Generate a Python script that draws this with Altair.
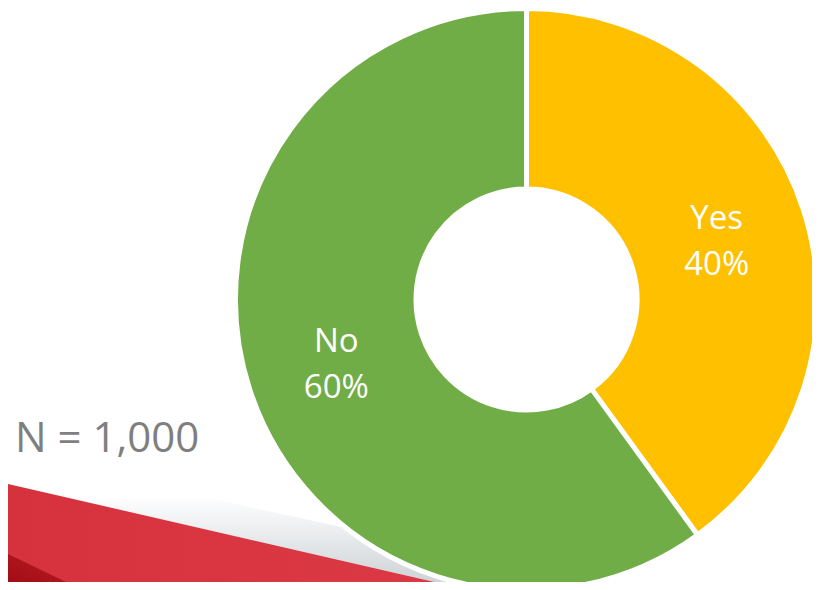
import altair as alt
import pandas as pd

# Donut data
answers = ["Yes", "No"]
shares = [40, 60]
labels = ["Yes\n40%", "No\n60%"]
slice_colors = ["#FFC000", "#70AD47"]

# Decorative swoosh outline (chart pixel space)
band_x = [0, 470]
band_top = [476, 584]
shadow_top = [446, 549]
dark_x = [0, 85]
dark_top = [546, 587]
BOTTOM = 574

W, H = 804, 574
CX, CY = 518.5, 291.5

donut = pd.DataFrame({"answer": answers, "share": shares, "label": labels,
                      "order": [0, 1]})
band = pd.DataFrame({"x": band_x, "top": band_top, "bottom": [BOTTOM] * 2,
                     "stop": shadow_top})
dark = pd.DataFrame({"x": dark_x, "top": dark_top, "bottom": [BOTTOM] * 2})

xs = alt.Scale(domain=[0, W], nice=False, zero=False)
ys = alt.Scale(domain=[0, H], nice=False, zero=False, reverse=True)

shadow = alt.Chart(band).mark_area(
    color=alt.Gradient(gradient="linear", x1=0, y1=0, x2=0, y2=1,
                       stops=[alt.GradientStop(color="#ffffff", offset=0),
                              alt.GradientStop(color="#ffffff", offset=0.3),
                              alt.GradientStop(color="#c9cfd2", offset=1)])
).encode(
    x=alt.X("x:Q", scale=xs, axis=None),
    y=alt.Y("stop:Q", scale=ys, axis=None),
    y2="top:Q",
)

red = alt.Chart(band).mark_area(
    color=alt.Gradient(gradient="linear", x1=0, y1=0, x2=1, y2=0,
                       stops=[alt.GradientStop(color="#D6323E", offset=0),
                              alt.GradientStop(color="#DB3A45", offset=1)])
).encode(
    x=alt.X("x:Q", scale=xs, axis=None),
    y=alt.Y("top:Q", scale=ys, axis=None),
    y2="bottom:Q",
)

darkred = alt.Chart(dark).mark_area(
    color=alt.Gradient(gradient="linear", x1=0, y1=1, x2=1, y2=0,
                       stops=[alt.GradientStop(color="#9A0A12", offset=0),
                              alt.GradientStop(color="#B3161F", offset=0.6),
                              alt.GradientStop(color="#CC2A35", offset=1)])
).encode(
    x=alt.X("x:Q", scale=xs, axis=None),
    y=alt.Y("top:Q", scale=ys, axis=None),
    y2="bottom:Q",
)

base = alt.Chart(donut).encode(
    theta=alt.Theta("share:Q", stack=True),
    order=alt.Order("order:Q"),
)

arcs = base.mark_arc(innerRadius=110.5, outerRadius=291, stroke="white",
                     strokeWidth=5).encode(
    color=alt.Color("answer:N", scale=alt.Scale(domain=answers, range=slice_colors),
                    legend=None),
    x=alt.value(CX), y=alt.value(CY),
)

text = base.mark_text(radius=200, fontSize=33, font="Open Sans", color="white",
                      lineBreak="\n", lineHeight=46, baseline="middle",
                      align="center", dy=-19).encode(
    text="label:N",
    x=alt.value(CX), y=alt.value(CY),
)

n_text = alt.Chart(pd.DataFrame({"t": ["N = 1,000"]})).mark_text(
    fontSize=42, font="Open Sans", color="#7F7F7F", align="left",
    baseline="alphabetic").encode(
    text="t:N", x=alt.value(7), y=alt.value(444))

chart = alt.layer(shadow, red, darkred, arcs, text, n_text).properties(
    width=W, height=H, padding=0, autosize=alt.AutoSizeParams(type="none")
).configure_view(stroke=None)

chart.save("out.html", embed_options={"renderer": "svg", "actions": False})
